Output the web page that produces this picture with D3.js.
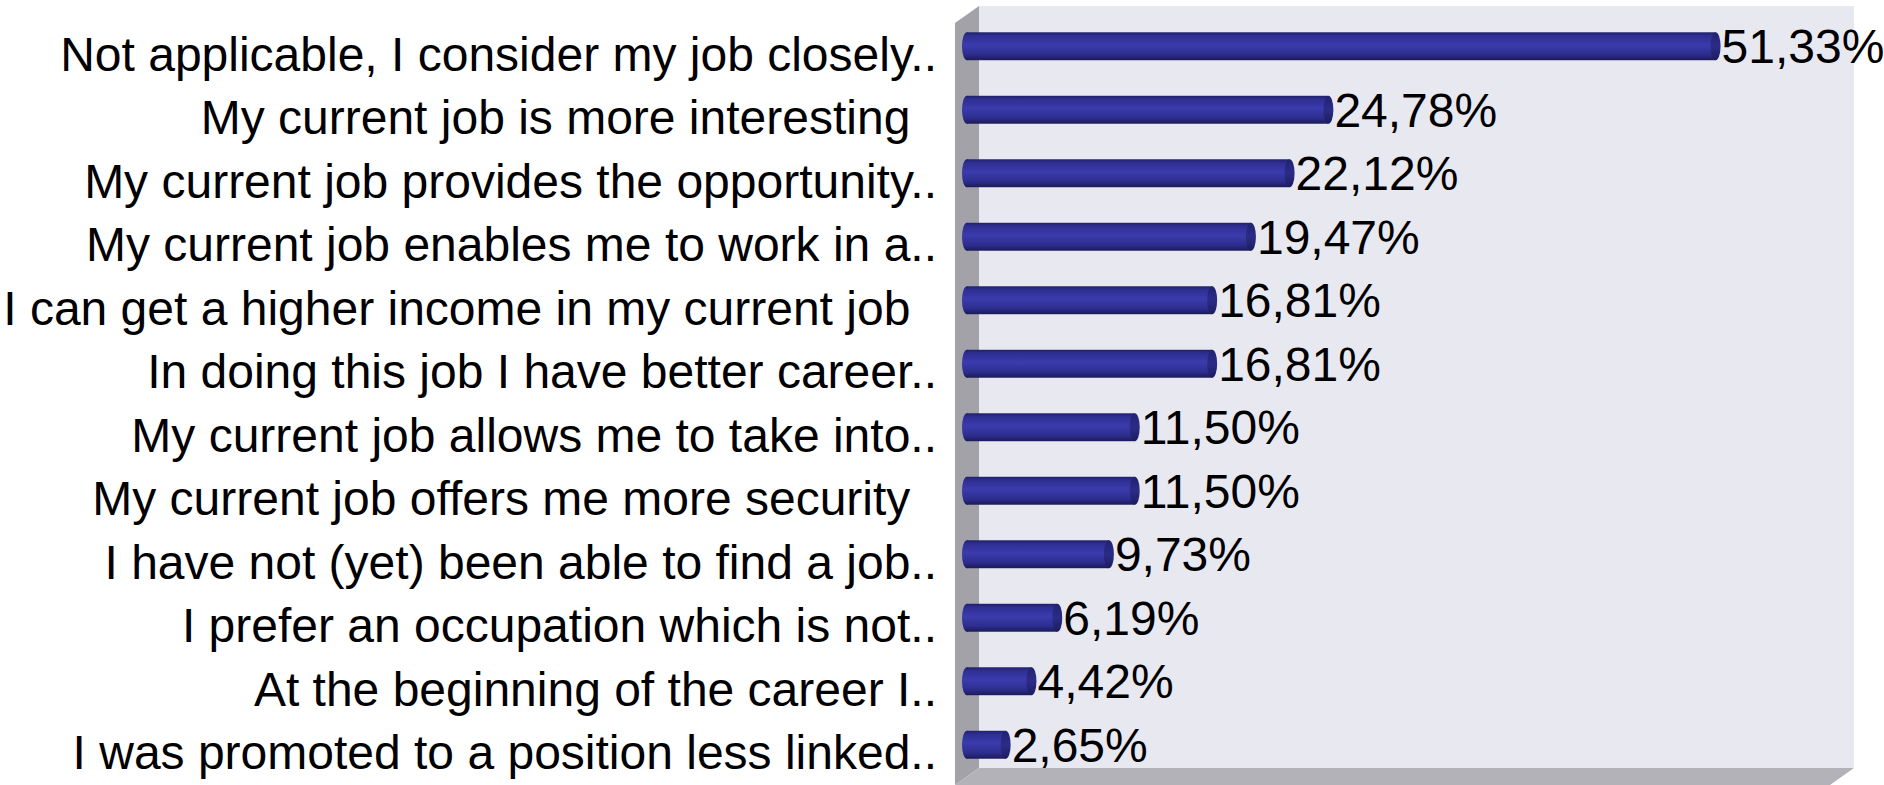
<!DOCTYPE html>
<html>
<head>
<meta charset="utf-8">
<script src="https://cdn.jsdelivr.net/npm/d3@7"></script>
<style>
    body { margin: 0; background: #ffffff; }
    svg { display: block; }
    .catLabel { font-family: "Liberation Sans", Arial, sans-serif; font-size: 48px; fill: #000; white-space: pre; }
    .valLabel { font-family: "Liberation Sans", Arial, sans-serif; font-size: 48px; fill: #000; }
</style>
</head>
<body>
<script>
(function(){
//chart data
var categories = [
    "Not applicable, I consider my job closely..",
    "My current job is more interesting  ",
    "My current job provides the opportunity..",
    "My current job enables me to work in a..",
    "I can get a higher income in my current job  ",
    "In doing this job I have better career..",
    "My current job allows me to take into..",
    "My current job offers me more security  ",
    "I have not (yet) been able to find a job..",
    "I prefer an occupation which is not..",
    "At the beginning of the career I..",
    "I was promoted to a position less linked.."
];
var values = [51.33, 24.78, 22.12, 19.47, 16.81, 16.81, 11.50, 11.50, 9.73, 6.19, 4.42, 2.65];
var axisDomain = [0, 60];

var width = 1884,
    height = 785,
    depthX = 24,   //3d depth offset
    depthY = 17,
    wallLeft = 955, //front plane left edge
    wallRight = 1830,
    wallTop = 23,
    wallBottom = 785;

var svg = d3.select("body")
    .append("svg")
    .attr("width", width)
    .attr("height", height);

var defs = svg.append("defs");

//gradient for bar body
var barGrad = defs.append("linearGradient")
    .attr("id", "barGrad")
    .attr("x1", 0).attr("y1", 0).attr("x2", 0).attr("y2", 1);
[["0%", "#20206a"], ["12%", "#2e2e92"], ["45%", "#3b3bad"], ["80%", "#2d2d8e"], ["100%", "#1a1a58"]]
    .forEach(function(s){ barGrad.append("stop").attr("offset", s[0]).attr("stop-color", s[1]); });

//gradient for bar end cap
var capGrad = defs.append("linearGradient")
    .attr("id", "capGrad")
    .attr("x1", 0).attr("y1", 0).attr("x2", 0).attr("y2", 1);
[["0%", "#222270"], ["50%", "#2c2c88"], ["100%", "#1c1c5e"]]
    .forEach(function(s){ capGrad.append("stop").attr("offset", s[0]).attr("stop-color", s[1]); });

//back wall
svg.append("rect")
    .attr("x", wallLeft + depthX)
    .attr("y", wallTop - depthY)
    .attr("width", wallRight - wallLeft)
    .attr("height", wallBottom - wallTop)
    .style("fill", "#e8e8f1");

//side wall
svg.append("polygon")
    .attr("points", [
        [wallLeft, wallTop],
        [wallLeft + depthX, wallTop - depthY],
        [wallLeft + depthX, wallBottom - depthY],
        [wallLeft, wallBottom]
    ].join(" "))
    .style("fill", "#a2a2a8");

//floor
svg.append("polygon")
    .attr("points", [
        [wallLeft, wallBottom],
        [wallLeft + depthX, wallBottom - depthY],
        [wallRight + depthX, wallBottom - depthY],
        [wallRight, wallBottom]
    ].join(" "))
    .style("fill", "#b2b2b8");

//scales in the middle depth plane
var xScale = d3.scaleLinear()
    .domain(axisDomain)
    .range([wallLeft + depthX / 2, wallRight + depthX / 2]);

var yScale = d3.scaleBand()
    .domain(categories)
    .range([wallTop - depthY / 2, wallBottom - depthY / 2])
    .paddingInner(0.56)
    .paddingOuter(0.28);

var labelScale = d3.scaleBand()
    .domain(categories)
    .range([wallTop, wallBottom]);

var data = categories.map(function(c, i){ return {cat: c, val: values[i]}; });

var bars = svg.selectAll(".bar")
    .data(data)
    .enter()
    .append("g")
    .attr("class", "bar");

var bh = yScale.bandwidth();

//bar body
bars.append("rect")
    .attr("x", xScale(0))
    .attr("y", function(d){ return yScale(d.cat); })
    .attr("width", function(d){ return xScale(d.val) - xScale(0); })
    .attr("height", bh)
    .style("fill", "url(#barGrad)");

//rounded left end
bars.append("ellipse")
    .attr("cx", xScale(0))
    .attr("cy", function(d){ return yScale(d.cat) + bh / 2; })
    .attr("rx", 5)
    .attr("ry", bh / 2)
    .style("fill", "url(#barGrad)");

//right end cap
bars.append("ellipse")
    .attr("cx", function(d){ return xScale(d.val); })
    .attr("cy", function(d){ return yScale(d.cat) + bh / 2; })
    .attr("rx", 5)
    .attr("ry", bh / 2)
    .style("fill", "url(#capGrad)");

//value labels
var fmt = d3.format(".2f");
bars.append("text")
    .attr("class", "valLabel")
    .attr("x", function(d){ return xScale(d.val) + 6; })
    .attr("y", function(d){ return yScale(d.cat) + bh / 2 + 17; })
    .text(function(d){ return fmt(d.val).replace(".", ",") + "%"; });

//category labels
svg.selectAll(".catLabel")
    .data(categories)
    .enter()
    .append("text")
    .attr("class", "catLabel")
    .attr("x", 937)
    .attr("y", function(d){ return labelScale(d) + labelScale.bandwidth() / 2 + 16; })
    .attr("text-anchor", "end")
    .text(function(d){ return d; });
})();
</script>
</body>
</html>
